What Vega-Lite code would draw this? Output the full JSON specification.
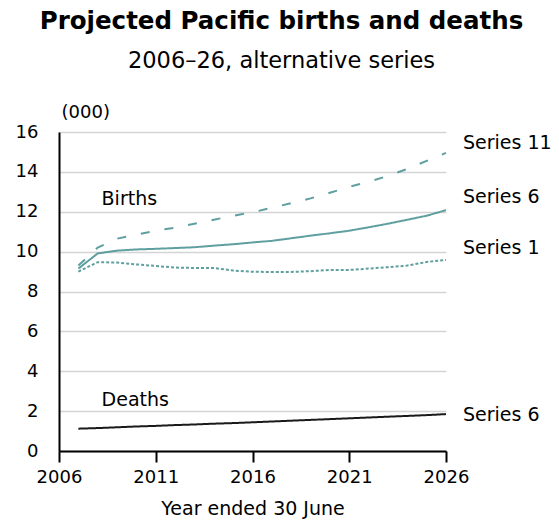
{
  "$schema": "https://vega.github.io/schema/vega-lite/v6.json",
  "autosize": "none",
  "width": 387,
  "height": 319,
  "padding": {"left": 59, "top": 132, "right": 113, "bottom": 70},
  "background": "white",
  "title": {
    "text": "Projected Pacific births and deaths",
    "subtitle": "2006–26, alternative series",
    "anchor": "middle",
    "frame": "group",
    "dx": 29,
    "offset": 30,
    "font": "DejaVu Sans",
    "fontSize": 24.5,
    "fontWeight": "bold",
    "color": "black",
    "subtitleFont": "DejaVu Sans",
    "subtitleFontSize": 22.5,
    "subtitleColor": "black",
    "subtitlePadding": 15
  },
  "datasets": {
    "lines": [
      {"year": 2007, "series": "Births Series 11", "value": 9.3},
      {"year": 2008, "series": "Births Series 11", "value": 10.2},
      {"year": 2009, "series": "Births Series 11", "value": 10.65},
      {"year": 2010, "series": "Births Series 11", "value": 10.85},
      {"year": 2011, "series": "Births Series 11", "value": 11.05},
      {"year": 2012, "series": "Births Series 11", "value": 11.2},
      {"year": 2013, "series": "Births Series 11", "value": 11.4},
      {"year": 2014, "series": "Births Series 11", "value": 11.6},
      {"year": 2015, "series": "Births Series 11", "value": 11.8},
      {"year": 2016, "series": "Births Series 11", "value": 11.97},
      {"year": 2017, "series": "Births Series 11", "value": 12.2},
      {"year": 2018, "series": "Births Series 11", "value": 12.43},
      {"year": 2019, "series": "Births Series 11", "value": 12.67},
      {"year": 2020, "series": "Births Series 11", "value": 12.95},
      {"year": 2021, "series": "Births Series 11", "value": 13.25},
      {"year": 2022, "series": "Births Series 11", "value": 13.5},
      {"year": 2023, "series": "Births Series 11", "value": 13.8},
      {"year": 2024, "series": "Births Series 11", "value": 14.15},
      {"year": 2025, "series": "Births Series 11", "value": 14.55},
      {"year": 2026, "series": "Births Series 11", "value": 14.95},
      {"year": 2007, "series": "Births Series 6", "value": 9.15},
      {"year": 2008, "series": "Births Series 6", "value": 9.91},
      {"year": 2009, "series": "Births Series 6", "value": 10.05},
      {"year": 2010, "series": "Births Series 6", "value": 10.11},
      {"year": 2011, "series": "Births Series 6", "value": 10.14},
      {"year": 2012, "series": "Births Series 6", "value": 10.18},
      {"year": 2013, "series": "Births Series 6", "value": 10.22},
      {"year": 2014, "series": "Births Series 6", "value": 10.3},
      {"year": 2015, "series": "Births Series 6", "value": 10.37},
      {"year": 2016, "series": "Births Series 6", "value": 10.46},
      {"year": 2017, "series": "Births Series 6", "value": 10.54},
      {"year": 2018, "series": "Births Series 6", "value": 10.67},
      {"year": 2019, "series": "Births Series 6", "value": 10.8},
      {"year": 2020, "series": "Births Series 6", "value": 10.92},
      {"year": 2021, "series": "Births Series 6", "value": 11.05},
      {"year": 2022, "series": "Births Series 6", "value": 11.22},
      {"year": 2023, "series": "Births Series 6", "value": 11.4},
      {"year": 2024, "series": "Births Series 6", "value": 11.6},
      {"year": 2025, "series": "Births Series 6", "value": 11.8},
      {"year": 2026, "series": "Births Series 6", "value": 12.08},
      {"year": 2007, "series": "Births Series 1", "value": 9.0},
      {"year": 2008, "series": "Births Series 1", "value": 9.47},
      {"year": 2009, "series": "Births Series 1", "value": 9.45},
      {"year": 2010, "series": "Births Series 1", "value": 9.36},
      {"year": 2011, "series": "Births Series 1", "value": 9.28},
      {"year": 2012, "series": "Births Series 1", "value": 9.2},
      {"year": 2013, "series": "Births Series 1", "value": 9.18},
      {"year": 2014, "series": "Births Series 1", "value": 9.18},
      {"year": 2015, "series": "Births Series 1", "value": 9.05},
      {"year": 2016, "series": "Births Series 1", "value": 8.99},
      {"year": 2017, "series": "Births Series 1", "value": 8.98},
      {"year": 2018, "series": "Births Series 1", "value": 8.98},
      {"year": 2019, "series": "Births Series 1", "value": 9.02},
      {"year": 2020, "series": "Births Series 1", "value": 9.08},
      {"year": 2021, "series": "Births Series 1", "value": 9.08},
      {"year": 2022, "series": "Births Series 1", "value": 9.15},
      {"year": 2023, "series": "Births Series 1", "value": 9.22},
      {"year": 2024, "series": "Births Series 1", "value": 9.3},
      {"year": 2025, "series": "Births Series 1", "value": 9.48},
      {"year": 2026, "series": "Births Series 1", "value": 9.58},
      {"year": 2007, "series": "Deaths Series 6", "value": 1.12},
      {"year": 2008, "series": "Deaths Series 6", "value": 1.15},
      {"year": 2009, "series": "Deaths Series 6", "value": 1.19},
      {"year": 2010, "series": "Deaths Series 6", "value": 1.23},
      {"year": 2011, "series": "Deaths Series 6", "value": 1.26},
      {"year": 2012, "series": "Deaths Series 6", "value": 1.3},
      {"year": 2013, "series": "Deaths Series 6", "value": 1.33},
      {"year": 2014, "series": "Deaths Series 6", "value": 1.37},
      {"year": 2015, "series": "Deaths Series 6", "value": 1.4},
      {"year": 2016, "series": "Deaths Series 6", "value": 1.44},
      {"year": 2017, "series": "Deaths Series 6", "value": 1.48},
      {"year": 2018, "series": "Deaths Series 6", "value": 1.52},
      {"year": 2019, "series": "Deaths Series 6", "value": 1.56},
      {"year": 2020, "series": "Deaths Series 6", "value": 1.6},
      {"year": 2021, "series": "Deaths Series 6", "value": 1.64},
      {"year": 2022, "series": "Deaths Series 6", "value": 1.68},
      {"year": 2023, "series": "Deaths Series 6", "value": 1.72},
      {"year": 2024, "series": "Deaths Series 6", "value": 1.76},
      {"year": 2025, "series": "Deaths Series 6", "value": 1.8},
      {"year": 2026, "series": "Deaths Series 6", "value": 1.85}
    ],
    "endLabels": [
      {"year": 2026, "value": 15.46, "label": "Series 11"},
      {"year": 2026, "value": 12.74, "label": "Series 6"},
      {"year": 2026, "value": 10.18, "label": "Series 1"},
      {"year": 2026, "value": 1.8, "label": "Series 6"}
    ],
    "groupLabels": [
      {"year": 2008.2, "value": 12.64, "label": "Births"},
      {"year": 2008.2, "value": 2.56, "label": "Deaths"}
    ]
  },
  "encoding": {
    "x": {
      "field": "year",
      "type": "quantitative",
      "scale": {"domain": [2006, 2026], "nice": false, "zero": false},
      "axis": {
        "values": [2006, 2011, 2016, 2021, 2026],
        "format": "d",
        "title": "Year ended 30 June",
        "grid": false,
        "domainColor": "black",
        "domainWidth": 2,
        "tickColor": "black",
        "tickWidth": 2,
        "tickSize": 11,
        "labelPadding": 6,
        "labelFont": "DejaVu Sans",
        "labelFontSize": 18,
        "labelColor": "black",
        "labelFlush": false,
        "labelOverlap": false,
        "titleFont": "DejaVu Sans",
        "titleFontSize": 19,
        "titleFontWeight": "normal",
        "titleColor": "black",
        "titlePadding": 13
      }
    },
    "y": {
      "field": "value",
      "type": "quantitative",
      "scale": {"domain": [0, 16], "nice": false},
      "axis": {
        "values": [0, 2, 4, 6, 8, 10, 12, 14, 16],
        "title": "(000)",
        "titleAngle": 0,
        "titleAlign": "left",
        "titleBaseline": "middle",
        "titleX": 2,
        "titleY": -20,
        "titleFont": "DejaVu Sans",
        "titleFontSize": 18,
        "titleFontWeight": "normal",
        "titleColor": "black",
        "grid": true,
        "gridColor": "#d4d4d4",
        "gridWidth": 1.5,
        "domainColor": "black",
        "domainWidth": 2,
        "ticks": false,
        "labelPadding": 21,
        "labelOverlap": false,
        "labelFont": "DejaVu Sans",
        "labelFontSize": 18,
        "labelColor": "black"
      }
    }
  },
  "layer": [
    {
      "data": {"name": "lines"},
      "mark": {"type": "line", "strokeWidth": 2, "clip": false},
      "encoding": {
        "color": {
          "field": "series",
          "type": "nominal",
          "scale": {
            "domain": ["Births Series 11", "Births Series 6", "Births Series 1", "Deaths Series 6"],
            "range": ["#5f9f9f", "#5f9f9f", "#5f9f9f", "#1a1a1a"]
          },
          "legend": null
        },
        "strokeDash": {
          "field": "series",
          "type": "nominal",
          "scale": {
            "domain": ["Births Series 11", "Births Series 6", "Births Series 1", "Deaths Series 6"],
            "range": [[9, 15], [1, 0], [3, 2], [1, 0]]
          },
          "legend": null
        }
      }
    },
    {
      "data": {"name": "endLabels"},
      "mark": {"type": "text", "align": "left", "baseline": "middle", "dx": 17, "font": "DejaVu Sans", "fontSize": 19, "color": "black", "clip": false},
      "encoding": {
        "text": {"field": "label"}
      }
    },
    {
      "data": {"name": "groupLabels"},
      "mark": {"type": "text", "align": "left", "baseline": "middle", "font": "DejaVu Sans", "fontSize": 19, "color": "black"},
      "encoding": {
        "text": {"field": "label"}
      }
    }
  ],
  "config": {
    "view": {"stroke": null}
  }
}
